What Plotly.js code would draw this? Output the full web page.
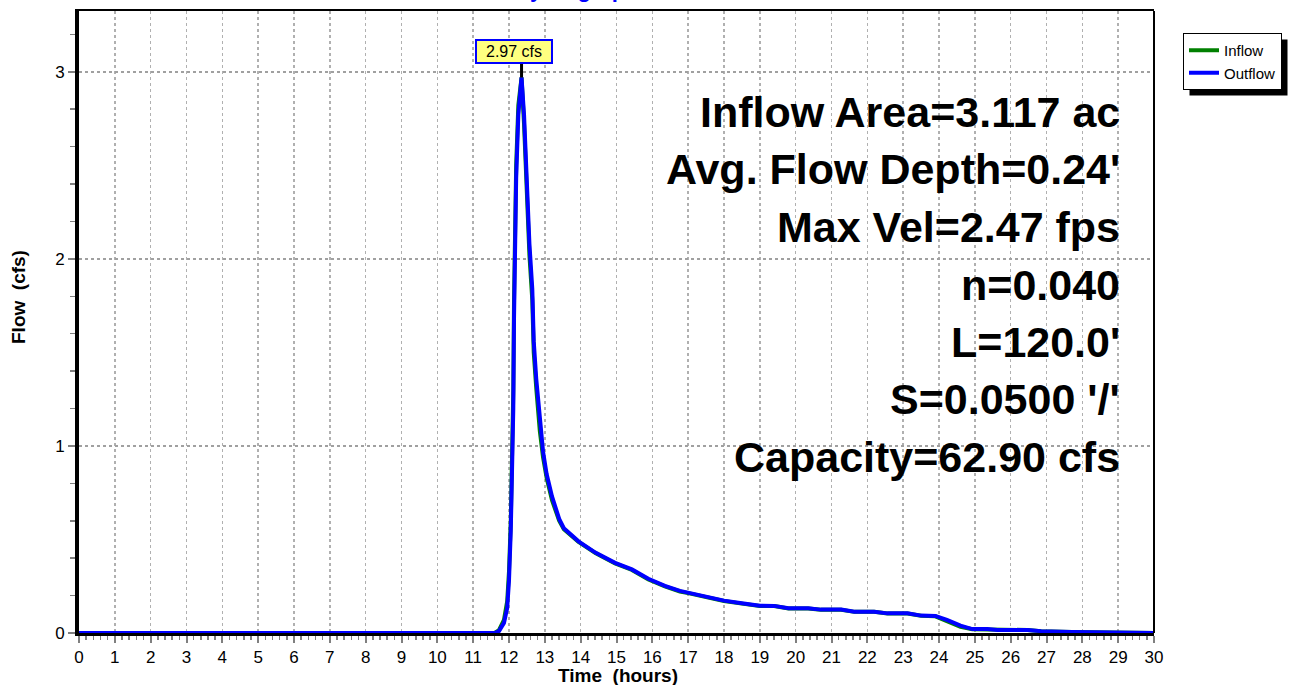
<!DOCTYPE html>
<html>
<head>
<meta charset="utf-8">
<script src="https://cdn.plot.ly/plotly-3.0.1.min.js"></script>
<style>
  html, body { margin: 0; padding: 0; background: #ffffff; }
  #chart { width: 1294px; height: 685px; }
</style>
</head>
<body>
<div id="chart"></div>
<script>
// ---- Data ----
const timeHours = [0, 11.6, 11.72, 11.86, 11.95, 12.0, 12.05, 12.09, 12.12, 12.14, 12.17, 12.2, 12.26, 12.32, 12.35,
  12.42, 12.46, 12.51, 12.57, 12.65, 12.69, 12.76, 12.86, 12.95, 13.05, 13.2, 13.4, 13.53, 13.94, 14.41, 14.96,
  15.43, 15.89, 16.35, 16.77, 17.0, 17.55, 18.0, 18.5, 19.0, 19.4, 19.8, 20.35, 20.7, 21.27, 21.64, 22.19, 22.56,
  23.12, 23.5, 23.9, 24.22, 24.6, 24.93, 25.35, 25.63, 26.47, 26.85, 27.7, 30];

const inflowCfs = [0, 0, 0.015, 0.07, 0.17, 0.33, 0.6, 0.95, 1.3, 1.78, 2.16, 2.5, 2.82, 2.96, 2.97,
  2.72, 2.53, 2.25, 2.02, 1.78, 1.5, 1.31, 1.08, 0.94, 0.83, 0.71, 0.6, 0.555, 0.487, 0.428, 0.372,
  0.337, 0.286, 0.249, 0.222, 0.213, 0.188, 0.171, 0.157, 0.145, 0.144, 0.131, 0.131, 0.124, 0.124, 0.113, 0.113, 0.104,
  0.104, 0.092, 0.089, 0.062, 0.033, 0.02, 0.02, 0.016, 0.016, 0.01, 0.005, 0];

const outflowCfs = [0, 0, 0.01, 0.054, 0.134, 0.28, 0.55, 0.85, 1.2, 1.68, 2.08, 2.43, 2.77, 2.95, 2.97,
  2.77, 2.59, 2.31, 2.08, 1.84, 1.56, 1.36, 1.12, 0.97, 0.85, 0.73, 0.61, 0.56, 0.49, 0.43, 0.375,
  0.34, 0.29, 0.252, 0.225, 0.216, 0.19, 0.173, 0.159, 0.146, 0.145, 0.132, 0.132, 0.125, 0.125, 0.114, 0.114, 0.105,
  0.105, 0.093, 0.091, 0.07, 0.039, 0.021, 0.021, 0.016, 0.016, 0.01, 0.005, 0];

const seriesNames = ['Inflow', 'Outflow'];
const seriesColors = ['#008000', '#0000ff'];

const infoLines = [
  'Inflow Area=3.117 ac',
  'Avg. Flow Depth=0.24\'',
  'Max Vel=2.47 fps',
  'n=0.040',
  'L=120.0\'',
  'S=0.0500 \'/\'',
  'Capacity=62.90 cfs'
];

const chartTitle = 'Hydrograph';
const xTitle = 'Time\u00a0\u00a0(hours)';
const yTitle = 'Flow\u00a0\u00a0(cfs)';

// ---- Layout geometry ----
const W = 1294, H = 685;
const M = { l: 79, r: 140, t: 11, b: 52 };
const PW = W - M.l - M.r, PH = H - M.t - M.b;
const px2paperX = px => (px - M.l) / PW;
const px2paperY = py => (H - M.b - py) / PH;

const FONT = 'Liberation Sans, Arial, Helvetica, sans-serif';

// peak of outflow
let peakIdx = 0;
outflowCfs.forEach((v, i) => { if (v > outflowCfs[peakIdx]) peakIdx = i; });
const peakT = timeHours[peakIdx];
const peakV = outflowCfs[peakIdx];

const traces = [
  {
    x: timeHours, y: inflowCfs, name: seriesNames[0], type: 'scatter', mode: 'lines',
    line: { color: seriesColors[0], width: 4 }
  },
  {
    x: timeHours, y: outflowCfs, name: seriesNames[1], type: 'scatter', mode: 'lines',
    line: { color: seriesColors[1], width: 4 }
  }
];

const annotations = [];
infoLines.forEach((t, i) => {
  annotations.push({
    text: '<b>' + t + '</b>', xref: 'paper', yref: 'paper',
    x: px2paperX(1122), y: px2paperY(112 + i * 57.5),
    xanchor: 'right', yanchor: 'middle', showarrow: false,
    font: { family: FONT, size: 43, color: '#000000' }
  });
});
// peak label
annotations.push({
  text: peakV.toFixed(2) + ' cfs', xref: 'x', yref: 'y', x: peakT, y: peakV,
  xshift: -8, yshift: 26, showarrow: false, xanchor: 'center', yanchor: 'middle',
  bgcolor: '#ffff80', bordercolor: '#0000ff', borderwidth: 2, borderpad: 3,
  width: 68, height: 15,
  font: { family: FONT, size: 16, color: '#000000' }
});
// chart title (mostly above the visible page, as in the reference)
annotations.push({
  text: '<b>' + chartTitle + '</b>', xref: 'paper', yref: 'paper',
  x: px2paperX(576), y: px2paperY(4), xanchor: 'center', yanchor: 'bottom', showarrow: false,
  font: { family: FONT, size: 22, color: '#0000ff' }
});
// axis titles
annotations.push({
  text: '<b>' + xTitle + '</b>', xref: 'paper', yref: 'paper',
  x: px2paperX(618), y: px2paperY(675), xanchor: 'center', yanchor: 'middle', showarrow: false,
  font: { family: FONT, size: 19, color: '#000000' }
});
annotations.push({
  text: '<b>' + yTitle + '</b>', xref: 'paper', yref: 'paper', textangle: -90,
  x: px2paperX(18), y: px2paperY(297), xanchor: 'center', yanchor: 'middle', showarrow: false,
  font: { family: FONT, size: 19, color: '#000000' }
});

const shapes = [
  // peak marker
  { type: 'line', xref: 'x', yref: 'y', x0: peakT, x1: peakT, y0: peakV, y1: peakV + 0.075,
    line: { color: '#000000', width: 3 }, layer: 'above' },
  // right frame edge
  { type: 'line', xref: 'paper', yref: 'paper', x0: 1, x1: 1, y0: 0, y1: 1,
    line: { color: '#000000', width: 2 }, layer: 'above' }
];

const layout = {
  width: W, height: H,
  margin: M,
  paper_bgcolor: '#ffffff', plot_bgcolor: '#ffffff',
  font: { family: FONT, size: 17, color: '#000000' },
  showlegend: true,
  legend: {
    x: px2paperX(1183), y: px2paperY(33), xanchor: 'left', yanchor: 'top',
    bgcolor: '#ffffff', bordercolor: '#000000', borderwidth: 1,
    font: { family: FONT, size: 15, color: '#000000' },
    tracegroupgap: 0
  },
  xaxis: {
    range: [0, 30], tick0: 0, dtick: 1, tickmode: 'linear',
    showgrid: true, gridcolor: '#b0b0b0', griddash: 'dot', gridwidth: 1.5,
    zeroline: false,
    showline: true, linecolor: '#000000', linewidth: 2.5, mirror: true,
    ticks: 'outside', ticklen: 7, tickwidth: 2, tickcolor: '#808080',
    tickfont: { family: FONT, size: 17, color: '#000000' },
    minor: { dtick: 0.2, ticks: 'outside', ticklen: 4, tickwidth: 1.5, tickcolor: '#808080', showgrid: false }
  },
  yaxis: {
    range: [0, 3.325], tick0: 0, dtick: 1, tickmode: 'linear',
    showgrid: true, gridcolor: '#a0a0a0', griddash: 'dot', gridwidth: 1.5,
    zeroline: false,
    showline: true, linecolor: '#000000', linewidth: 4,
    ticks: 'outside', ticklen: 7, tickwidth: 2, tickcolor: '#808080',
    tickfont: { family: FONT, size: 17, color: '#000000' },
    minor: { dtick: 0.2, ticks: 'outside', ticklen: 5, tickwidth: 1.5, tickcolor: '#808080', showgrid: false }
  },
  annotations: annotations,
  shapes: shapes
};

Plotly.newPlot('chart', traces, layout, { staticPlot: true, displayModeBar: false }).then(gd => {
  // legend drop shadow, measured from the rendered legend box
  const bg = gd.querySelector('.legend .bg');
  if (!bg) return;
  const r = bg.getBoundingClientRect();
  const g = gd.getBoundingClientRect();
  const left = r.left - g.left, top = r.top - g.top, right = r.right - g.left, bottom = r.bottom - g.top;
  const off = 6;
  const shadow = {
    type: 'rect', xref: 'paper', yref: 'paper',
    x0: px2paperX(left + off), x1: px2paperX(right + off),
    y0: px2paperY(bottom + off), y1: px2paperY(top + off),
    fillcolor: '#000000', line: { width: 0 }, layer: 'above'
  };
  return Plotly.relayout(gd, { shapes: shapes.concat([shadow]) });
});
</script>
</body>
</html>
